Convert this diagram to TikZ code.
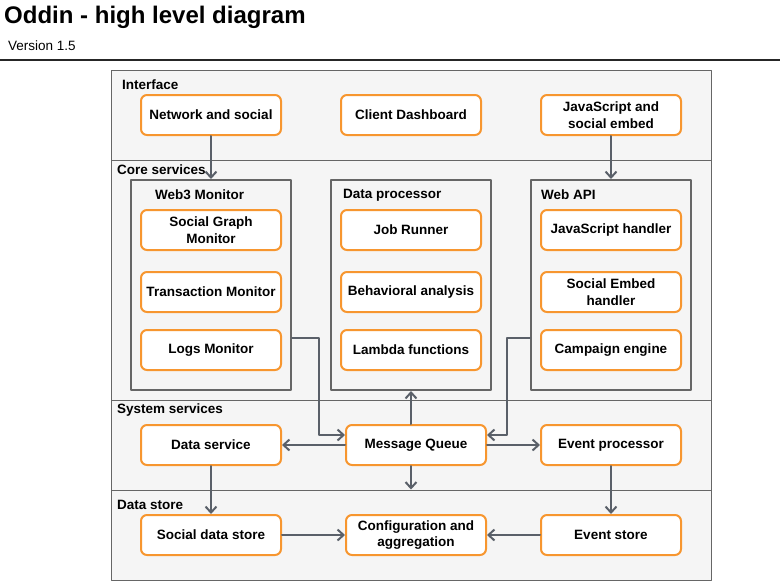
\documentclass[tikz,border=0pt]{standalone}
\usepackage{fontspec}
\setmainfont{Liberation Sans}
\usetikzlibrary{
    arrows.meta,    % tikz's library of arrow tips
    positioning     % tikz's library for relative placement
}
\newcommand{\boxwidth}{140pt}
\newcommand{\boxheight}{40pt}
\definecolor{boxorange}{HTML}{F7962F}
\definecolor{edgegray}{HTML}{5A6069}
\definecolor{lanegray}{HTML}{F5F5F5}
\definecolor{laneborder}{HTML}{666666}
\tikzset{
    lane/.style={draw=laneborder, fill=lanegray, line width=1pt,
        minimum width=600pt, inner sep=0pt},
    lane label/.style={anchor=west, inner sep=0pt,
        font=\fontsize{13.5}{16}\selectfont\bfseries},
    group box/.style={draw=laneborder, fill=lanegray, line width=2pt,
        minimum width=160pt, minimum height=210pt, inner sep=0pt},
    service box/.style={
        draw=boxorange, fill=white, line width=2pt,
        rounded corners=6pt,
        minimum width=\boxwidth, minimum height=\boxheight,
        align=center, inner sep=2pt,
        font=\fontsize{13.5}{16.5}\selectfont\bfseries
    },
    flow/.style={-{Straight Barb[length=6pt, width=11pt]}, draw=edgegray, line width=2pt}
}

\begin{document}
\begin{tikzpicture}[x=1pt, y=-1pt, cap=round, join=round]
        \useasboundingbox (0,0) rectangle (780,581);

        % heading
        \node [anchor=west, inner sep=0pt, font=\fontsize{24}{28}\selectfont\bfseries] (title) at (4,17) {Oddin - high level diagram};
        \node [anchor=west, inner sep=0pt, font=\fontsize{13.5}{16}\selectfont] (version) at (8,46) {Version 1.5};
        \coordinate (rule west) at (0,60);
        \coordinate (rule east) at (780,60);
        \draw [line width=2pt, black!85] (rule west) -- (rule east);

        % lanes
        \node [lane, minimum height=90pt]  (iface) at (411,115) {};
        \node [lane, minimum height=240pt] (core)  at (411,280) {};
        \node [lane, minimum height=90pt]  (sys)   at (411,445) {};
        \node [lane, minimum height=90pt]  (store) at (411,535) {};
        \node [lane label] (iface label) at (122,85)  {Interface};
        \node [lane label] (core label)  at (117,170) {Core services};
        \node [lane label] (sys label)   at (117,410) {System services};
        \node [lane label] (store label) at (117,505) {Data store};

        % interface
        \node [service box] (net)     at (211,115) {Network and social};
        \node [service box] (dash)    at (411,115) {Client Dashboard};
        \node [service box] (jsembed) at (611,115) {JavaScript and\\social embed};

        % core services
        \node [group box] (web3)     at (211,285) {};
        \node [group box] (dataproc) at (411,285) {};
        \node [group box] (webapi)   at (611,285) {};
        \node [lane label] (web3 label)     at (155,195) {Web3 Monitor};
        \node [lane label] (dataproc label) at (343,195) {Data processor};
        \node [lane label] (webapi label)   at (541,195) {Web API};

        \node [service box] (graph)  at (211,230) {Social Graph\\Monitor};
        \node [service box] (trans)  at (211,292) {Transaction Monitor};
        \node [service box] (logs)   at (211,350) {Logs Monitor};
        \node [service box] (jobs)   at (411,230) {Job Runner};
        \node [service box] (behav)  at (411,292) {Behavioral analysis};
        \node [service box] (lambda) at (411,350) {Lambda functions};
        \node [service box] (jshand) at (611,230) {JavaScript handler};
        \node [service box] (sehand) at (611,292) {Social Embed\\handler};
        \node [service box] (camp)   at (611,350) {Campaign engine};

        % system services
        \node [service box] (datasvc) at (211,445) {Data service};
        \node [service box] (queue)   at (416,445) {Message Queue};
        \node [service box] (evproc)  at (611,445) {Event processor};

        % data store
        \node [service box] (social)  at (211,535) {Social data store};
        \node [service box] (config)  at (416,535) {Configuration and\\aggregation};
        \node [service box] (evstore) at (611,535) {Event store};

        % connectors
        \draw [flow] (net) -- (web3);
        \draw [flow] (jsembed) -- (webapi);
        \draw [flow] ([yshift=12pt]web3.east |- logs.east) -- ++(27,0) |- ([yshift=10pt]queue.west);
        \draw [flow] ([yshift=12pt]webapi.west |- camp.west) -- ++(-23,0) |- ([yshift=10pt]queue.east);
        \draw [flow] (queue.north -| dataproc.south) -- (dataproc.south);
        \draw [flow] (queue.south -| dataproc.south) -- (dataproc.south |- store.north);
        \draw [flow] (queue) -- (datasvc);
        \draw [flow] (queue) -- (evproc);
        \draw [flow] (datasvc) -- (social);
        \draw [flow] (evproc) -- (evstore);
        \draw [flow] (social) -- (config);
        \draw [flow] (evstore) -- (config);
    \end{tikzpicture}
\end{document}
